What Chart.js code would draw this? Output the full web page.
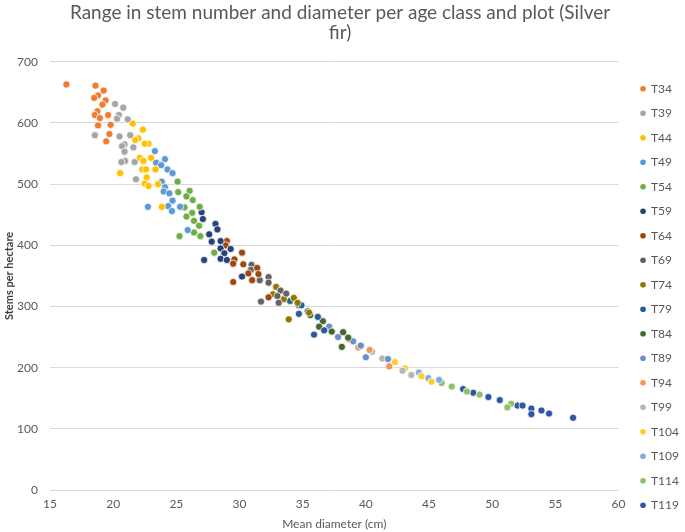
<!DOCTYPE html>
<html>
<head>
<meta charset="utf-8">
<script src="https://cdn.jsdelivr.net/npm/chart.js@4"></script>
<style>
  html, body { margin: 0; padding: 0; background: #ffffff; }
  #wrap { width: 685px; height: 532px; position: relative; }
</style>
</head>
<body>
<div id="wrap"><canvas id="c"></canvas></div>
<script>
// Series data: [mean diameter (cm), stems per hectare]
const T34 = [[16.3,663],[18.6,661],[19.25,653],[18.8,645],[18.5,641],[19.4,637],[19.15,630],[18.75,619],[19.6,613],[18.55,613],[18.95,608],[19.8,597],[18.8,596],[19.7,582],[19.45,570]];
const T39 = [[20.15,631],[20.8,625],[20.45,613],[20.3,607],[21.15,606],[18.55,580],[20.5,578],[21.35,580],[20.9,565],[20.7,562],[21.6,560],[20.9,553],[20.95,538],[20.65,536],[21.7,536],[21.8,508]];
const T44 = [[21.55,599],[22.35,589],[22.0,575],[21.75,572],[22.8,566],[22.5,566],[22.1,543],[23.0,543],[22.4,538],[22.3,524],[22.6,524],[23.35,524],[20.55,518],[22.65,511],[22.5,501],[22.8,497],[23.55,500],[23.85,463]];
const T49 = [[23.3,554],[24.1,541],[23.4,535],[23.8,531],[24.3,524],[24.7,518],[23.85,504],[24.1,495],[24.0,488],[24.45,485],[24.7,473],[24.35,464],[24.65,456],[22.75,463],[25.3,463],[25.9,425]];
const T54 = [[25.1,504],[25.15,487],[26.05,489],[25.8,480],[26.3,474],[25.65,462],[26.85,463],[26.25,453],[25.8,447],[26.4,440],[26.8,432],[26.4,421],[26.9,415],[25.25,415],[28.0,388]];
const T59 = [[27.0,454],[27.1,443],[28.1,435],[28.25,426],[27.6,418],[27.8,406],[28.5,407],[28.5,395],[28.8,387],[29.3,394],[28.5,378],[29.0,376],[27.2,376],[30.2,349]];
const T64 = [[29.0,407],[28.9,400],[30.2,388],[29.6,377],[29.5,370],[30.3,369],[31.4,363],[30.7,354],[31.5,353],[31.0,343],[29.5,340],[32.3,315]];
const T69 = [[30.95,368],[30.9,360],[31.6,343],[32.3,348],[32.3,339],[33.25,326],[33.7,321],[33.0,317],[31.7,308],[33.1,306]];
const T74 = [[32.9,332],[33.5,312],[34.3,314],[32.65,320],[33.9,279],[34.6,306],[35.5,290]];
const T79 = [[34.0,309],[34.7,302],[34.7,288],[35.4,292],[36.2,283],[35.9,254],[36.7,261],[34.9,302]];
const T84 = [[35.6,286],[36.6,276],[36.3,267],[37.3,259],[38.2,258],[38.1,234],[38.6,249]];
const T89 = [[37.1,267],[37.8,250],[39.0,243],[39.6,236],[40.0,217],[41.75,214]];
const T94 = [[38.7,246],[39.4,233],[40.3,229],[41.85,202]];
const T99 = [[40.5,226],[41.3,215],[42.9,195],[43.6,188]];
const T104 = [[42.3,209],[43.1,199],[44.4,186],[45.2,177]];
const T109 = [[44.2,192],[44.95,183],[45.8,180]];
const T114 = [[46.0,175],[46.8,169],[48.0,161],[49.0,156],[51.5,141],[51.2,135]];
const T119 = [[47.7,165],[48.5,159],[49.7,152],[50.6,147],[52.0,138],[52.4,138],[53.1,133],[53.1,124],[53.9,130],[54.5,125],[56.4,118]];

const seriesNames = ['T34','T39','T44','T49','T54','T59','T64','T69','T74','T79','T84','T89','T94','T99','T104','T109','T114','T119'];
const seriesData = [T34,T39,T44,T49,T54,T59,T64,T69,T74,T79,T84,T89,T94,T99,T104,T109,T114,T119];
const seriesColors = ['#ED7D31','#A5A5A5','#FFC000','#5B9BD5','#70AD47','#264478','#9E480E','#636363','#997300','#255E91','#43682B','#698ED0','#F1975A','#B7B7B7','#FFCD33','#7CAFDD','#8CC168','#3055A5'];

const xTicks = [15,20,25,30,35,40,45,50,55,60];
const yTicks = [0,100,200,300,400,500,600,700];

const FONT = 'Lato, "Open Sans", sans-serif';

const datasets = seriesNames.map((name, i) => ({
  label: name,
  data: seriesData[i].map(p => ({x: p[0], y: p[1]})),
  backgroundColor: seriesColors[i],
  borderColor: '#ffffff',
  borderWidth: 0.75,
  pointRadius: 3.6,
  pointHoverRadius: 3.6,
  pointStyle: 'circle'
}));

// shift the legend block to its place at the right of the plot
const legendShift = {
  id: 'legendShift',
  afterLayout(chart) {
    const lg = chart.legend;
    if (!lg) return;
    const dx = 10, dy = 31;
    lg.left += dx; lg.right += dx;
    lg.top += dy; lg.bottom += dy;
  }
};

new Chart(document.getElementById('c'), {
  type: 'scatter',
  data: { datasets },
  plugins: [legendShift],
  options: {
    responsive: true,
    maintainAspectRatio: false,
    animation: false,
    layout: { padding: { left: 1, right: 6, top: 0, bottom: 0 } },
    plugins: {
      title: {
        display: true,
        text: ['Range in stem number and diameter per age class and plot (Silver', 'fir)'],
        color: '#595959',
        font: { family: FONT, size: 19, weight: 'normal', lineHeight: 1.1 },
        padding: { top: 2, bottom: 18 }
      },
      legend: {
        position: 'right',
        labels: {
          usePointStyle: true,
          pointStyle: 'circle',
          boxWidth: 4,
          boxHeight: 4,
          color: '#595959',
          font: { family: FONT, size: 12 },
          padding: 12.5,
          generateLabels: (chart) => chart.data.datasets.map((ds, i) => ({
            text: ds.label,
            fillStyle: ds.backgroundColor,
            strokeStyle: ds.backgroundColor,
            lineWidth: 0,
            pointStyle: 'circle',
            datasetIndex: i,
            hidden: false,
            fontColor: '#595959'
          }))
        }
      },
      tooltip: { enabled: false }
    },
    scales: {
      x: {
        type: 'linear',
        min: xTicks[0],
        max: xTicks[xTicks.length - 1],
        afterBuildTicks: (s) => { s.ticks = xTicks.map(v => ({value: v})); },
        grid: { display: false, drawTicks: false },
        border: { display: false },
        ticks: { color: '#595959', font: { family: FONT, size: 12, lineHeight: 1 }, padding: 8 },
        title: { display: true, text: 'Mean diameter (cm)', color: '#595959', font: { family: FONT, size: 12, lineHeight: 1 }, padding: { top: 0, bottom: 2 } }
      },
      y: {
        type: 'linear',
        min: yTicks[0],
        max: yTicks[yTicks.length - 1],
        afterBuildTicks: (s) => { s.ticks = yTicks.map(v => ({value: v})); },
        afterFit: (s) => { s.width = 49; },
        grid: { color: '#D9D9D9', lineWidth: 1, drawTicks: false },
        border: { display: false },
        ticks: { color: '#595959', font: { family: FONT, size: 12 }, padding: 12 },
        title: { display: true, text: 'Stems per hectare', color: '#404040', font: { family: FONT, size: 11, weight: 'bold' }, padding: { top: 2, bottom: 0 } }
      }
    }
  }
});
</script>
</body>
</html>
